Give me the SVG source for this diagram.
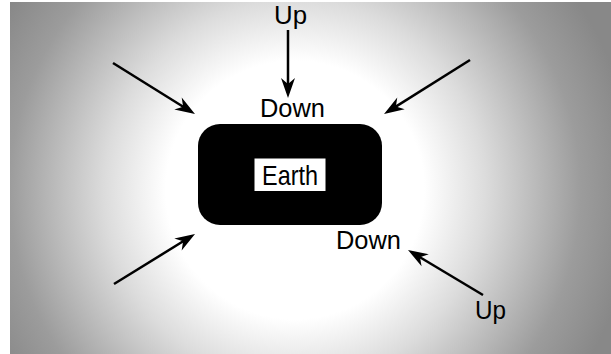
<svg xmlns="http://www.w3.org/2000/svg" width="611" height="354" viewBox="0 0 611 354">
  <defs>
    <radialGradient id="glow" gradientUnits="userSpaceOnUse" cx="295" cy="190" r="340">
      <stop offset="0" stop-color="#ffffff"/>
      <stop offset="0.38" stop-color="#ffffff"/>
      <stop offset="0.56" stop-color="#dcdcdc"/>
      <stop offset="0.84" stop-color="#9c9c9c"/>
      <stop offset="1" stop-color="#888888"/>
    </radialGradient>
    <marker id="head" markerUnits="userSpaceOnUse" orient="auto" refX="0" refY="0" markerWidth="30" markerHeight="30" overflow="visible">
      <path d="M12,0 L-8,-7 L-2,0 L-8,7 Z" fill="#000"/>
    </marker>
    <style>
      .lbl { font-family: "Liberation Sans", Arial, sans-serif; font-size: 26.5px; fill: #000; text-anchor: middle; }
      .arrow { stroke: #000; stroke-width: 2.5; fill: none; marker-end: url(#head); }
    </style>
  </defs>

  <!-- backdrop -->
  <rect x="0" y="0" width="611" height="354" fill="#ffffff"/>
  <rect x="10" y="2" width="601" height="352" fill="url(#glow)"/>

  <!-- planet -->
  <g id="earth">
    <rect x="198" y="124" width="184" height="101" rx="22" ry="22" fill="#000"/>
    <rect x="254.5" y="158.5" width="71" height="32.5" fill="#fff"/>
    <text class="lbl" x="290" y="185" textLength="56" lengthAdjust="spacingAndGlyphs" style="font-size:27.5px">Earth</text>
  </g>

  <!-- labels -->
  <g id="label-up-top"><text class="lbl" x="290.5" y="23.5" textLength="33" lengthAdjust="spacingAndGlyphs" style="font-size:25.5px">Up</text></g>
  <g id="label-down-top"><text class="lbl" x="292.5" y="117" textLength="65" lengthAdjust="spacingAndGlyphs">Down</text></g>
  <g id="label-down-bottom"><text class="lbl" x="368.5" y="249" textLength="65" lengthAdjust="spacingAndGlyphs">Down</text></g>
  <g id="label-up-bottom"><text class="lbl" x="490.5" y="319" textLength="31" lengthAdjust="spacingAndGlyphs">Up</text></g>

  <!-- arrows pointing toward the planet -->
  <g id="connectors">
    <line class="arrow" x1="288" y1="30" x2="288" y2="86"/>
    <line class="arrow" x1="113" y1="63" x2="184.8" y2="107.7"/>
    <line class="arrow" x1="114" y1="284" x2="184.8" y2="240.3"/>
    <line class="arrow" x1="470" y1="60" x2="394.2" y2="107.6"/>
    <line class="arrow" x1="483" y1="295" x2="418.3" y2="256.2"/>
  </g>
</svg>
